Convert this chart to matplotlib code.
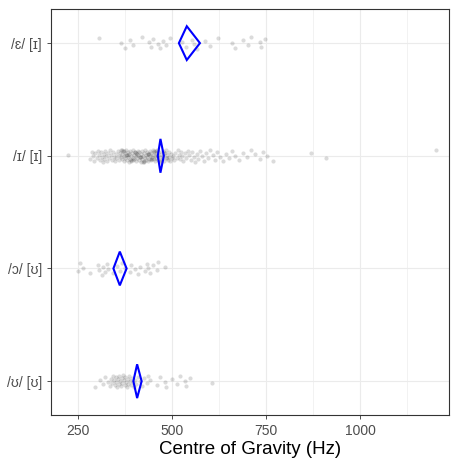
import matplotlib
matplotlib.use("Agg")
import matplotlib.pyplot as plt
from matplotlib.patches import Polygon
from matplotlib.ticker import FixedLocator
import numpy as np

# categories, bottom to top
categories = ["/ʊ/ [ʊ]", "/ɔ/ [ʊ]", "/ɪ/ [ɪ]", "/ɛ/ [ɪ]"]

# centre of gravity values (Hz) per category
cog_uu = [295, 308, 317, 322, 330, 335, 338, 340, 343, 345, 347, 350, 352, 354,
          356, 358, 360, 362, 364, 366, 368, 370, 372, 374, 376, 378, 380, 382,
          384, 386, 388, 390, 393, 396, 399, 401, 405, 410, 415, 420, 426, 432,
          437, 441, 459, 467, 481, 485, 499, 512, 521, 534, 538, 547, 605]
cog_ou = [251, 255, 264, 282, 304, 307, 313, 317, 321, 326, 330, 344, 353,
          361, 366, 375, 388, 392, 401, 410, 414, 428, 432, 437, 441, 450,
          459, 463, 481]
cog_ii = [224, 282, 287, 290, 293, 296, 300, 303, 305, 308, 311, 314, 316, 318,
          320, 322, 325, 327, 330, 332, 335, 338, 340, 343, 345, 347, 350, 352,
          356, 358, 360, 362, 363, 365, 367, 368, 370, 371, 373, 374, 376, 377,
          379, 380, 382, 383, 385, 386, 388, 389, 391, 392, 394, 395, 397, 398,
          400, 401, 403, 404, 406, 407, 409, 410, 412, 413, 415, 416, 418, 419,
          421, 422, 424, 425, 427, 428, 430, 431, 433, 434, 436, 437, 439, 440,
          442, 443, 445, 446, 448, 449, 451, 452, 454, 455, 457, 458, 460, 461,
          463, 465, 467, 469, 471, 473, 475, 477, 479, 481, 483, 485, 487, 489,
          491, 493, 495, 497, 500, 372, 384, 396, 405, 417, 426, 435, 444, 453,
          462, 470, 478, 486, 366, 378, 390, 402, 414, 423, 438, 447, 456,
          503, 506, 509, 512, 515, 518, 521, 524, 527, 530, 533, 537, 541, 545,
          549, 553, 557, 561, 565, 570, 575, 580, 585, 590, 596, 602, 608, 614,
          620, 627, 634, 642, 650, 660, 668, 678, 688, 700, 711, 720, 733, 741,
          751, 767, 868, 910, 1201]
cog_ei = [306, 363, 375, 388, 395, 421, 439, 444, 450, 463, 467, 476, 485,
          494, 525, 538, 552, 558, 565, 587, 600, 622, 658, 667, 688, 702,
          711, 733, 737, 746]
groups = [cog_uu, cog_ou, cog_ii, cog_ei]

# mean and confidence interval for the diamonds
means = [407, 361, 469, 539]
ci_low = [397, 344, 462, 518]
ci_high = [419, 379, 478, 574]

x_ticks = [250, 500, 750, 1000]
x_minor = [375, 625, 875, 1125]

fig = plt.figure(figsize=(4.51, 4.61), dpi=100)
ax = fig.add_axes([0.113, 0.0998, 0.8826, 0.8800])

for i, vals in enumerate(groups):
    n = len(vals)
    jit = ((np.arange(n) * 0.618034 + 0.3 * i) % 1 - 0.5) * 0.11
    ax.scatter(vals, np.full(n, i + 1) + jit, s=9, color="black",
               alpha=0.14, linewidths=0, zorder=2)

for i in range(len(categories)):
    y = i + 1
    h = 0.15
    pts = [(ci_low[i], y), (means[i], y + h), (ci_high[i], y), (means[i], y - h)]
    ax.add_patch(Polygon(pts, closed=True, fill=False, edgecolor="#0000FF",
                         linewidth=1.5, zorder=3))

ax.set_xlim(178, 1236)
ax.set_ylim(0.7, 4.3)
ax.set_yticks(range(1, len(categories) + 1))
ax.set_yticklabels(categories)
ax.xaxis.set_major_locator(FixedLocator(x_ticks))
ax.xaxis.set_minor_locator(FixedLocator(x_minor))

ax.grid(which="major", color="#EBEBEB", linewidth=0.8, zorder=0)
ax.grid(which="minor", axis="x", color="#EBEBEB", linewidth=0.45, zorder=0)
ax.set_axisbelow(True)
ax.tick_params(which="major", length=3, width=0.6, color="#333333",
               labelcolor="#4D4D4D", labelsize=10)
ax.tick_params(which="minor", length=0)
for lab in ax.get_xticklabels() + ax.get_yticklabels():
    lab.set_family(["Liberation Sans", "DejaVu Sans"])
for s in ax.spines.values():
    s.set_color("#333333")
    s.set_linewidth(0.8)

ax.set_xlabel("Centre of Gravity (Hz)", fontsize=13.5,
              family=["Liberation Sans", "DejaVu Sans"], labelpad=2)

fig.savefig("out.png", dpi=100)
